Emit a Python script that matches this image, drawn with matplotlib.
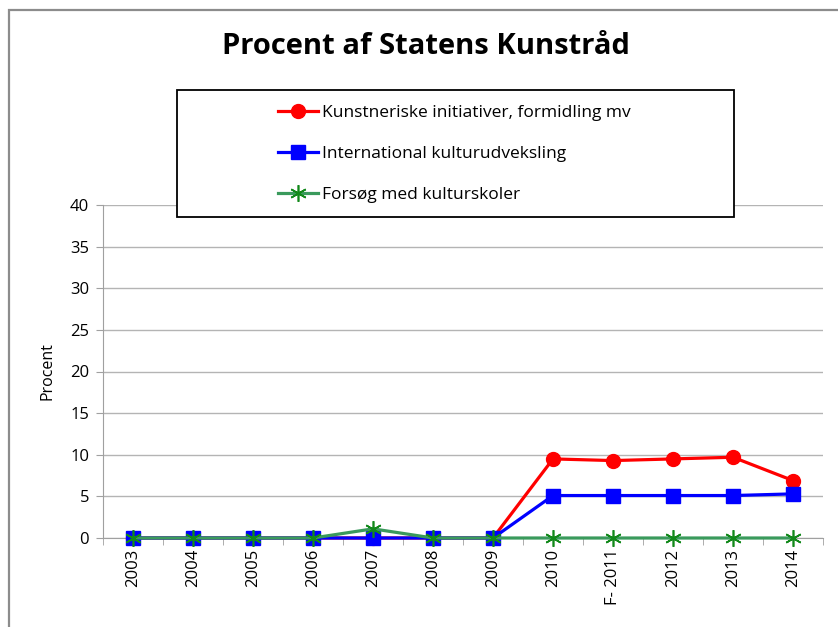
import matplotlib
matplotlib.use("Agg")
import matplotlib.pyplot as plt
from matplotlib.patches import Rectangle

plt.rcParams['font.family'] = ['Open Sans', 'DejaVu Sans']

# data
years = ['2003', '2004', '2005', '2006', '2007', '2008', '2009',
         '2010', 'F- 2011', '2012', '2013', '2014']
kunstneriske = [0, 0, 0, 0, 0, 0, 0, 9.5, 9.3, 9.5, 9.7, 6.9]
international = [0, 0, 0, 0, 0, 0, 0, 5.1, 5.1, 5.1, 5.1, 5.3]
forsoeg = [0, 0, 0, 0, 1.1, 0, 0, 0, 0, 0, 0, 0]
labels = ['Kunstneriske initiativer, formidling mv',
          'International kulturudveksling',
          'Forsøg med kulturskoler']

W, H = 838, 627
fig = plt.figure(figsize=(W / 100, H / 100), dpi=100)
ax = fig.add_axes([103 / W, 1 - 538 / H, 720 / W, 333 / H])

x = list(range(len(years)))
ax.plot(x, kunstneriske, color='#ff0000', lw=2.3, marker='o', markersize=10,
        label=labels[0], zorder=3, clip_on=False)
ax.plot(x, international, color='#0000ff', lw=2.3, marker='s', markersize=9.5,
        label=labels[1], zorder=4, clip_on=False)
ax.plot(x, forsoeg, color='#3a9a5c', lw=2.3, marker=(6, 2, 0), markersize=12,
        markeredgecolor='#12891a', markeredgewidth=1.2, label=labels[2], zorder=5,
        clip_on=False)

ax.set_xlim(-0.5, len(years) - 0.5)
ax.set_ylim(0, 40)
ax.set_yticks(range(0, 41, 5))
ax.set_xticks(x)
ax.set_xticklabels(years, rotation=90, fontsize=12)
ax.set_xticks([i + 0.5 for i in range(-1, len(years))], minor=True)
ax.tick_params(axis='x', which='major', length=0, pad=8)
ax.tick_params(axis='x', which='minor', length=5, color='#a0a0a0')
ax.tick_params(axis='y', length=5, color='#a0a0a0', labelsize=12, pad=5)
ax.yaxis.grid(True, color='#b4b4b4', lw=1)
ax.set_axisbelow(True)
for s in ['top', 'right']:
    ax.spines[s].set_visible(False)
ax.spines['left'].set_color('#a0a0a0')
ax.spines['bottom'].set_color('#a0a0a0')
ax.set_ylabel('Procent', fontsize=11.5, labelpad=10)

fig.text(426 / W, 1 - 47 / H, 'Procent af Statens Kunstråd', ha='center',
         va='center', fontsize=21, fontweight='bold')

# outer chart border
fig.patches.append(Rectangle((9 / W, -0.1), 1.2, 1.1 - 10 / H, transform=fig.transFigure,
                             fill=False, edgecolor='#8c8c8c', lw=1.6, zorder=0))
# legend box
fig.patches.append(Rectangle((177 / W, 1 - 217 / H), 557 / W, 127 / H,
                             transform=fig.transFigure, facecolor='white',
                             edgecolor='black', lw=1.3, zorder=2))
fig.legend(loc='center left', bbox_to_anchor=(278 / W, 1 - 154 / H), frameon=False,
           fontsize=12.5, labelspacing=1.45, handlelength=2.3, handletextpad=0.25,
           borderpad=0, borderaxespad=0)

fig.savefig('out.png', dpi=100)
